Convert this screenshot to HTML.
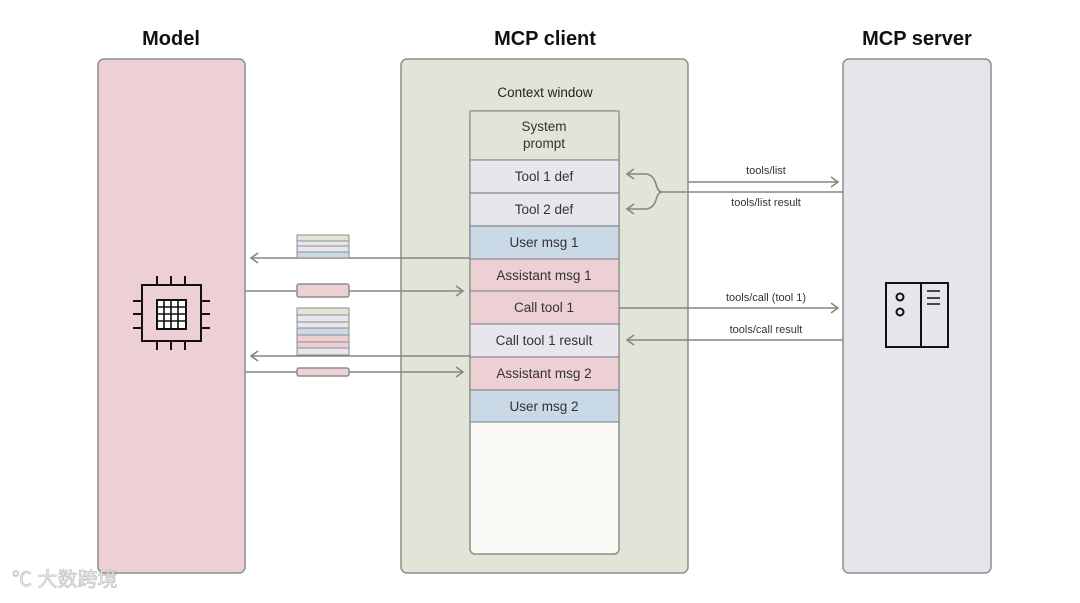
<!DOCTYPE html>
<html><head><meta charset="utf-8"><style>
body{margin:0;width:1080px;height:598px;background:#fff;overflow:hidden;font-family:"Liberation Sans","Noto Sans CJK SC",sans-serif;}
</style></head><body>
<svg width="1080" height="598" viewBox="0 0 1080 598" xmlns="http://www.w3.org/2000/svg" font-family="Liberation Sans, Noto Sans CJK SC, sans-serif">
<defs>
<marker id="a" markerWidth="10" markerHeight="12" refX="8" refY="6" orient="auto" markerUnits="userSpaceOnUse">
<path d="M1,1 L8,6 L1,11" fill="none" stroke="#858780" stroke-width="1.6"/></marker>
</defs>
<g font-size="20" font-weight="bold" fill="#111" text-anchor="middle">
<text x="171" y="45">Model</text>
<text x="545" y="45">MCP client</text>
<text x="917" y="45">MCP server</text>
</g>
<rect x="98" y="59" width="147" height="514" rx="6" fill="#ecd0d3" stroke="#8d8d8d" stroke-width="1.5"/>
<rect x="401" y="59" width="287" height="514" rx="6" fill="#e1e5d8" stroke="#8d8d8d" stroke-width="1.5"/>
<rect x="843" y="59" width="148" height="514" rx="6" fill="#e5e6ec" stroke="#8d8d8d" stroke-width="1.5"/>
<text x="545" y="97" font-size="13.5" text-anchor="middle" fill="#222">Context window</text>
<rect x="470" y="111" width="149" height="443" rx="5" fill="#fbfaf6" stroke="#8d8d8d" stroke-width="1.5"/>
<g stroke="#8d8d8d" stroke-width="1.2">
<rect x="470" y="111" width="149" height="49" fill="#e1e5d8"/>
<rect x="470" y="160" width="149" height="33" fill="#e6e6ec"/>
<rect x="470" y="193" width="149" height="33" fill="#e6e6ec"/>
<rect x="470" y="226" width="149" height="33" fill="#c9d9e6"/>
<rect x="470" y="259" width="149" height="32" fill="#ecd0d3"/>
<rect x="470" y="291" width="149" height="33" fill="#ecd0d3"/>
<rect x="470" y="324" width="149" height="33" fill="#e6e6ec"/>
<rect x="470" y="357" width="149" height="33" fill="#ecd0d3"/>
<rect x="470" y="390" width="149" height="32" fill="#c9d9e6"/>
</g>
<g font-size="13.5" fill="#333" text-anchor="middle">
<text x="544" y="131">System</text><text x="544" y="148">prompt</text>
<text x="544" y="181">Tool 1 def</text>
<text x="544" y="214">Tool 2 def</text>
<text x="544" y="247">User msg 1</text>
<text x="544" y="280">Assistant msg 1</text>
<text x="544" y="312">Call tool 1</text>
<text x="544" y="345">Call tool 1 result</text>
<text x="544" y="378">Assistant msg 2</text>
<text x="544" y="411">User msg 2</text>
</g>
<g stroke="#858780" stroke-width="1.6" fill="none">
<line x1="470" y1="258" x2="251" y2="258" marker-end="url(#a)"/>
<line x1="245" y1="291" x2="463" y2="291" marker-end="url(#a)"/>
<line x1="470" y1="356" x2="251" y2="356" marker-end="url(#a)"/>
<line x1="245" y1="372" x2="463" y2="372" marker-end="url(#a)"/>
<line x1="688" y1="182" x2="838" y2="182" marker-end="url(#a)"/>
<path d="M843,192 L662,192 Q658,192 656,184 Q653,174 645,174 L627,174" marker-end="url(#a)"/>
<path d="M662,192 Q658,192 656,200 Q653,209 645,209 L627,209" marker-end="url(#a)"/>
<line x1="619" y1="308" x2="838" y2="308" marker-end="url(#a)"/>
<line x1="843" y1="340" x2="627" y2="340" marker-end="url(#a)"/>
</g>
<g font-size="11" fill="#333" text-anchor="middle">
<text x="766" y="174">tools/list</text>
<text x="766" y="206">tools/list result</text>
<text x="766" y="301">tools/call (tool 1)</text>
<text x="766" y="333">tools/call result</text>
</g>
<g stroke="#8d8d8d" stroke-width="1">
<rect x="297" y="235" width="52" height="6" fill="#e1e5d8"/>
<rect x="297" y="241" width="52" height="5" fill="#e6e6ec"/>
<rect x="297" y="246" width="52" height="6" fill="#e6e6ec"/>
<rect x="297" y="252" width="52" height="6" fill="#c9d9e6"/>
<rect x="297" y="284" width="52" height="13" rx="2" fill="#ecd0d3" stroke-width="1.5"/>
<rect x="297" y="308" width="52" height="7" fill="#e1e5d8"/>
<rect x="297" y="315" width="52" height="7" fill="#e6e6ec"/>
<rect x="297" y="322" width="52" height="6" fill="#e6e6ec"/>
<rect x="297" y="328" width="52" height="7" fill="#c9d9e6"/>
<rect x="297" y="335" width="52" height="7" fill="#ecd0d3"/>
<rect x="297" y="342" width="52" height="6" fill="#ecd0d3"/>
<rect x="297" y="348" width="52" height="7" fill="#e6e6ec"/>
<rect x="297" y="368" width="52" height="8" rx="2" fill="#ecd0d3" stroke-width="1.5"/>
</g>
<g stroke="#111" stroke-width="2" fill="none">
<rect x="142" y="285" width="59" height="56"/>
<rect x="157" y="300" width="29" height="29" fill="#fff"/>
<path d="M164,300V329M171,300V329M178,300V329M157,307H186M157,314H186M157,321H186" stroke-width="1.6"/>
<path d="M157,276V285M171,276V285M185,276V285M157,341V350M171,341V350M185,341V350M133,301H142M133,314H142M133,328H142M201,301H210M201,314H210M201,328H210"/>
</g>
<g stroke="#111" stroke-width="2" fill="none">
<rect x="886" y="283" width="62" height="64"/>
<line x1="921" y1="283" x2="921" y2="347"/>
<circle cx="900" cy="297" r="3.5"/><circle cx="900" cy="312" r="3.5"/>
<path d="M927,291H940M927,298H940M927,304H940" stroke-width="1.5"/>
</g>
<text x="12" y="586" font-size="20" fill="#e8e8e8" stroke="#bbb" stroke-width="0.6">℃ 大数跨境</text>
</svg>
</body></html>
